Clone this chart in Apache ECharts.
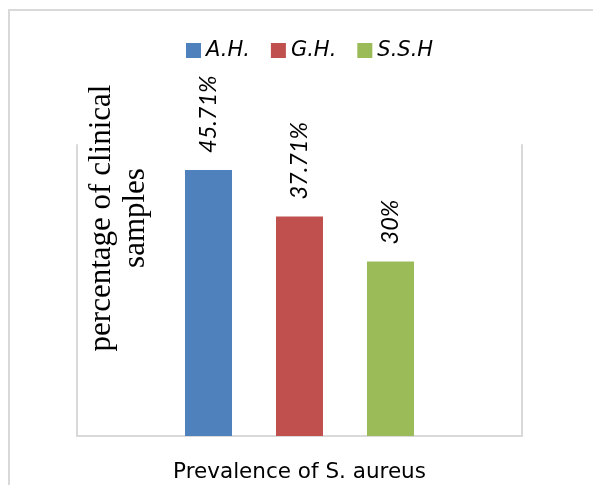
<!DOCTYPE html>
<html>
<head>
<meta charset="utf-8">
<script src="https://cdn.jsdelivr.net/npm/echarts@6/dist/echarts.min.js"></script>
<style>
html,body{margin:0;padding:0;background:#fff;}
#chart{width:593px;height:485px;}
</style>
</head>
<body>
<div id="chart"></div>
<script>
const categories = ['Prevalence of S. aureus'];
const seriesNames = ['A.H.', 'G.H.', 'S.S.H'];
const ahValues = [45.71];
const ghValues = [37.71];
const sshValues = [30];
const seriesValues = [ahValues, ghValues, sshValues];
const seriesColors = ['#4f81bd', '#c0504d', '#9bbb59'];
const yAxisTitle = 'percentage of clinical\nsamples';
const yMin = 0;
const yMax = 50;

const chart = echarts.init(document.getElementById('chart'), null, {renderer: 'canvas'});
const axisGray = '#d9d9d9';

const series = seriesNames.map((name, i) => ({
  name: name,
  type: 'bar',
  data: seriesValues[i],
  barWidth: 47,
  barGap: '93.6%',
  itemStyle: {color: seriesColors[i]},
  label: {
    show: true,
    position: 'top',
    rotate: 90,
    align: 'left',
    verticalAlign: 'middle',
    distance: 14,
    offset: [3, 0],
    formatter: p => p.value + '%',
    fontFamily: 'Lato',
    fontStyle: 'italic',
    fontSize: 23.5,
    color: '#000'
  }
}));

const option = {
  animation: false,
  backgroundColor: '#fff',
  legend: {
    data: seriesNames,
    left: 186,
    top: 40,
    padding: 0,
    itemWidth: 15,
    itemHeight: 15,
    itemGap: 21,
    icon: 'rect',
    textStyle: {
      fontFamily: 'DejaVu Sans',
      fontStyle: 'italic',
      fontSize: 21,
      lineHeight: 20,
      color: '#000'
    }
  },
  grid: {left: 77, right: 71, top: 145, bottom: 49, containLabel: false},
  xAxis: {
    type: 'category',
    data: categories,
    axisLine: {show: true, lineStyle: {color: axisGray, width: 2}},
    axisTick: {show: false},
    axisLabel: {
      margin: 25,
      fontFamily: 'DejaVu Sans',
      fontSize: 21.5,
      color: '#000'
    }
  },
  yAxis: [
    {
      type: 'value', min: yMin, max: yMax, position: 'left',
      axisLine: {show: true, lineStyle: {color: axisGray, width: 2}},
      axisTick: {show: false}, axisLabel: {show: false}, splitLine: {show: false}
    },
    {
      type: 'value', min: yMin, max: yMax, position: 'right',
      axisLine: {show: true, lineStyle: {color: axisGray, width: 2}},
      axisTick: {show: false}, axisLabel: {show: false}, splitLine: {show: false}
    }
  ],
  graphic: [
    {
      type: 'rect',
      shape: {x: 9, y: 10, width: 620, height: 520},
      style: {fill: 'none', stroke: axisGray, lineWidth: 2},
      silent: true
    },
    {
      type: 'text',
      x: 119,
      y: 218,
      rotation: Math.PI / 2,
      style: {
        text: yAxisTitle,
        fontFamily: 'Liberation Serif',
        fontSize: 31,
        lineHeight: 34,
        align: 'center',
        verticalAlign: 'middle',
        fill: '#000'
      }
    }
  ],
  series: series
};
chart.setOption(option);
</script>
</body>
</html>
